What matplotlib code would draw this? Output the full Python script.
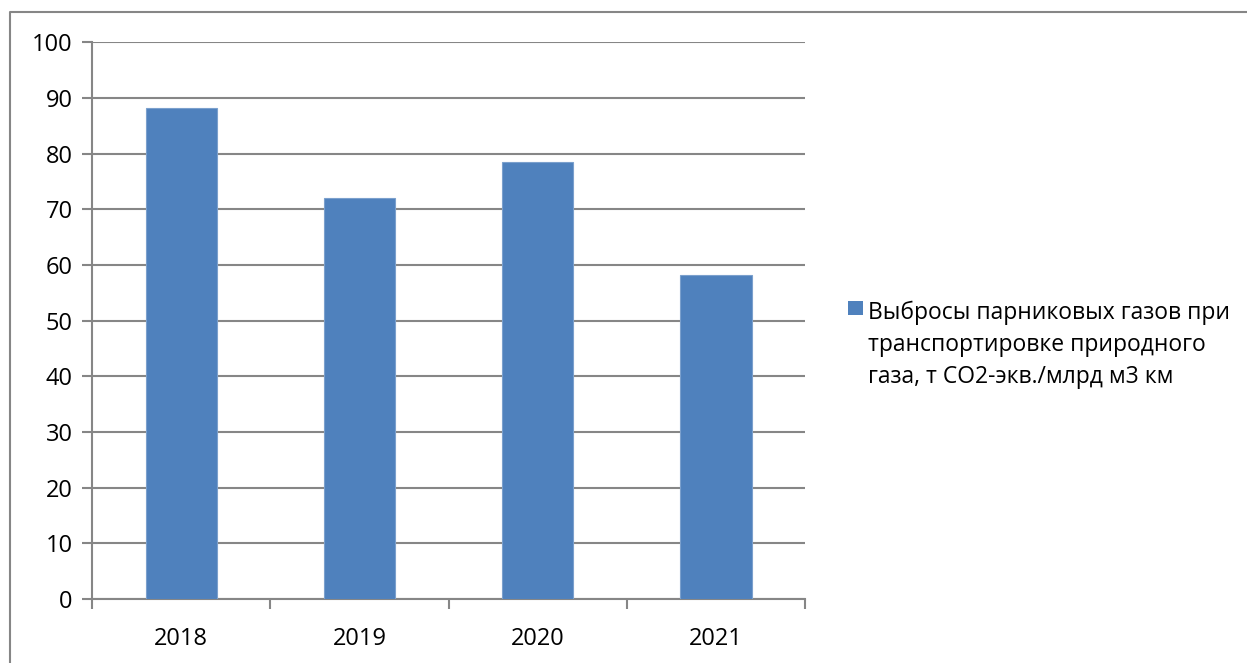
import numpy as np
import matplotlib.pyplot as plt
from matplotlib.patches import Rectangle
from matplotlib.lines import Line2D

# данные: выбросы по годам
years = ['2018', '2019', '2020', '2021']
emissions = [88.3, 72.1, 78.6, 58.3]
series_name = ('Выбросы парниковых газов при\n'
               'транспортировке природного\n'
               'газа, т СО2-экв./млрд м3 км')

plt.rcParams['font.family'] = ['Open Sans', 'DejaVu Sans']

W, H = 1247, 663
fig = plt.figure(figsize=(W / 100, H / 100), dpi=100)
ax = fig.add_axes([0.0738, 0.0965, 0.572, 0.8395])

grid_color = '#868686'
bar_color = '#4F81BD'
x = np.arange(len(years))
ax.bar(x, emissions, width=0.4, color=bar_color, edgecolor='#7BA0CD',
       linewidth=0.8, zorder=3)

ax.set_xlim(-0.5, len(years) - 0.5)
ax.set_ylim(0, 100)
ax.set_yticks(np.arange(0, 101, 10))
ax.set_xticks(x)
ax.set_xticklabels(years)
ax.set_xticks(np.arange(-0.5, len(years)), minor=True)

# сетка и оси
ax.grid(axis='y', color=grid_color, linewidth=1.5, zorder=0)
for side in ['top', 'right']:
    ax.spines[side].set_visible(False)
for side in ['left', 'bottom']:
    ax.spines[side].set_color(grid_color)
    ax.spines[side].set_linewidth(1.5)
ax.tick_params(axis='y', length=7, width=1.5, color=grid_color,
               labelsize=17, pad=7)
ax.tick_params(axis='x', which='major', length=0, labelsize=17, pad=20)
ax.tick_params(axis='x', which='minor', length=7, width=1.5,
               color=grid_color)

# легенда справа: маркер на уровне первой строки
fig.patches.append(Rectangle((848 / W, 1 - 315 / H), 15 / W, 14.5 / H,
                             transform=fig.transFigure,
                             facecolor=bar_color, edgecolor='none'))
fig.text(868 / W, 1 - 345 / H, series_name, ha='left', va='center',
         fontsize=16.5, linespacing=1.45)

# рамка диаграммы (видны только левый и верхний края)
fig.lines.append(Line2D([10 / W, 10 / W, 1], [0, 1 - 12 / H, 1 - 12 / H],
                        transform=fig.transFigure, color=grid_color,
                        linewidth=1.5))

fig.savefig('out.png', dpi=100)
